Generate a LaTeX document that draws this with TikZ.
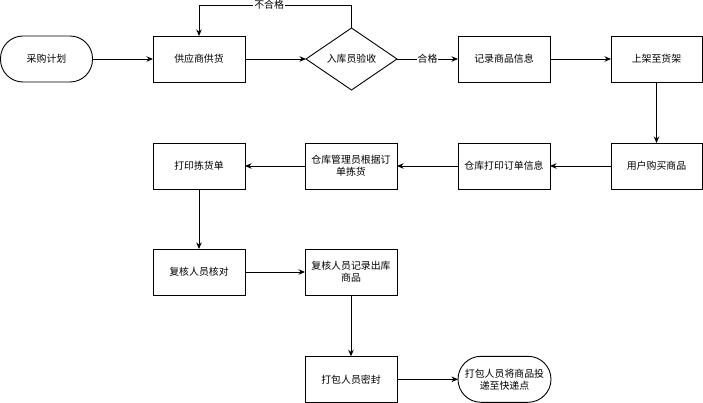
\documentclass[tikz,border=0pt]{standalone}
\usepackage{fontspec}
\setmainfont{Noto Sans CJK SC}
\usetikzlibrary{shapes.geometric,arrows.meta}
\begin{document}
\begin{tikzpicture}[x=1pt,y=-1pt,
  font=\fontsize{9.9pt}{12pt}\selectfont,
  every node/.style={inner sep=0pt, outer sep=0pt},
  box/.style={draw=black, line width=0.9pt, fill=white, minimum width=92pt, minimum height=46pt, align=center},
  term/.style={box, rounded corners=22.5pt},
  dia/.style={draw=black, line width=0.9pt, fill=white, diamond, minimum width=91pt, minimum height=62pt, align=center},
  arr/.style={draw=black, line width=0.9pt, -{Stealth[length=6.5pt,width=5.5pt]}},
  lab/.style={fill=white, inner sep=1pt}
]
\useasboundingbox (0,0) rectangle (703,403);
\node[term] (start) at (46.5,59) {采购计划};
\node[box] (supply) at (199,59) {供应商供货};
\node[dia] (check) at (351.5,59) {入库员验收};
\node[box] (record) at (504,59) {记录商品信息};
\node[box, minimum width=91pt] (shelf) at (656.5,59) {上架至货架};
\node[box, minimum width=91pt] (buy) at (656.5,166) {用户购买商品};
\node[box] (printorder) at (504,166) {仓库打印订单信息};
\node[box] (pick) at (351,166) {仓库管理员根据订\\单拣货};
\node[box] (printpick) at (199,166) {打印拣货单};
\node[box] (verify) at (199,272) {复核人员核对};
\node[box] (recordout) at (351,272) {复核人员记录出库\\商品};
\node[box] (pack) at (351,379.3) {打包人员密封};
\node[term, minimum width=93pt, minimum height=46pt, rounded corners=23pt] (end) at (504.5,379.3) {打包人员将商品投\\递至快递点};
\coordinate (fb) at (199,5);

\draw[arr] (start) -- (supply);
\draw[arr] (supply) -- (check);
\draw[arr] (check.north) |- node[lab, pos=0.77] {不合格} (fb) -- (supply.north);
\draw[arr] (check) -- node[lab] {合格} (record);
\draw[arr] (record) -- (shelf);
\draw[arr] (shelf) -- (buy);
\draw[arr] (buy) -- (printorder);
\draw[arr] (printorder) -- (pick);
\draw[arr] (pick) -- (printpick);
\draw[arr] (printpick) -- (verify);
\draw[arr] (verify) -- (recordout);
\draw[arr] (recordout) -- (pack);
\draw[arr] (pack) -- (end);
\end{tikzpicture}
\end{document}
